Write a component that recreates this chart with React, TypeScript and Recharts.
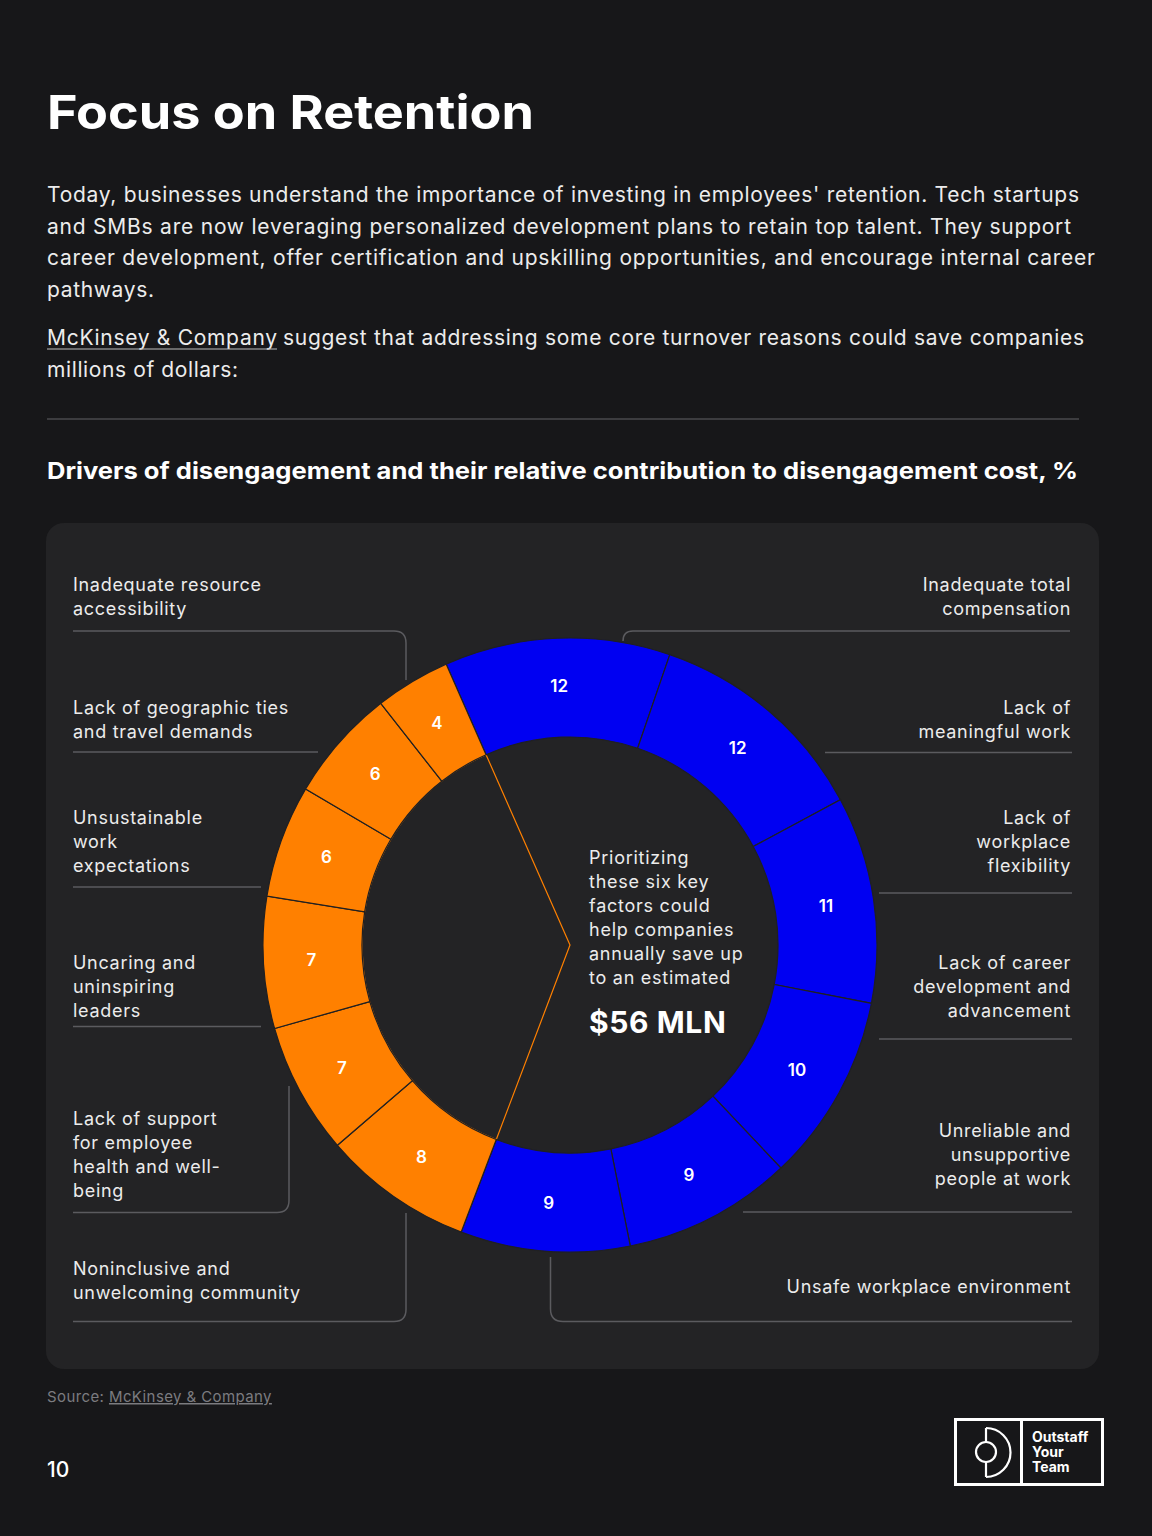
import React from "react";
import { PieChart, Pie, Cell } from "recharts";

// ---------- data ----------
const CATEGORIES = [
  "Inadequate total compensation",
  "Lack of meaningful work",
  "Lack of workplace flexibility",
  "Lack of career development and advancement",
  "Unreliable and unsupportive people at work",
  "Unsafe workplace environment",
  "Noninclusive and unwelcoming community",
  "Lack of support for employee health and well-being",
  "Uncaring and uninspiring leaders",
  "Unsustainable work expectations",
  "Lack of geographic ties and travel demands",
  "Inadequate resource accessibility",
];
const VALUES = [12, 12, 11, 10, 9, 9, 8, 7, 7, 6, 6, 4];
const GROUPS = ["key", "key", "key", "key", "key", "key", "other", "other", "other", "other", "other", "other"];
const LABEL_LINES = [
  ["Inadequate total", "compensation"],
  ["Lack of", "meaningful work"],
  ["Lack of", "workplace", "flexibility"],
  ["Lack of career", "development and", "advancement"],
  ["Unreliable and", "unsupportive", "people at work"],
  ["Unsafe workplace environment"],
  ["Noninclusive and", "unwelcoming community"],
  ["Lack of support", "for employee", "health and well-", "being"],
  ["Uncaring and", "uninspiring", "leaders"],
  ["Unsustainable", "work", "expectations"],
  ["Lack of geographic ties", "and travel demands"],
  ["Inadequate resource", "accessibility"],
];
const CENTER_LINES = ["Prioritizing", "these six key", "factors could", "help companies", "annually save up", "to an estimated"];
const CENTER_VALUE = "$56 MLN";

const TITLE = "Focus on Retention";
const PARAGRAPH = [
  "Today, businesses understand the importance of investing in employees' retention. Tech startups",
  "and SMBs are now leveraging personalized development plans to retain top talent. They support",
  "career development, offer certification and upskilling opportunities, and encourage internal career",
  "pathways.",
];
const SOURCE_NAME = "McKinsey & Company";
const PARAGRAPH2_REST = "suggest that addressing some core turnover reasons could save companies";
const PARAGRAPH2_LINE2 = "millions of dollars:";
const SUBTITLE = "Drivers of disengagement and their relative contribution to disengagement cost, %";

// ---------- layout / styles ----------
const FONT = "Inter, 'Open Sans', sans-serif";
const BG = "#171719";
const CARD = "#232325";
const BLUE = "#0000F2";
const ORANGE = "#FF8000";
const LINE = "#5b5b5f";
const TEXT = "#ececec";

const PARA_RIGHT = [1079, 1071, 1095, 154];
const PARA_BASE = [202, 233.5, 265, 296.5];

const LABEL_LAYOUT = [
  { side: "right", base: [591, 615], path: "M1070 631 H633 Q623 631 623 641" },
  { side: "right", base: [714, 738], path: "M825 752.5 H1072" },
  { side: "right", base: [824, 848, 872], path: "M879 893 H1072" },
  { side: "right", base: [969, 993, 1017], path: "M879 1039 H1072" },
  { side: "right", base: [1137, 1161, 1185], path: "M743 1212 H1072" },
  { side: "right", base: [1293], path: "M1072 1321.5 H563 Q550.5 1321.5 550.5 1309 V1257" },
  { side: "left", base: [1275, 1299], path: "M73 1321.5 H394 Q406 1321.5 406 1309.5 V1213" },
  { side: "left", base: [1125, 1149, 1173, 1197], path: "M73 1212.5 H277 Q289 1212.5 289 1200.5 V1086" },
  { side: "left", base: [969, 993, 1017], path: "M73 1026.5 H261" },
  { side: "left", base: [824, 848, 872], path: "M73 887 H261" },
  { side: "left", base: [714, 738], path: "M73 752 H318" },
  { side: "left", base: [591, 615], path: "M73 631 H394 Q406 631 406 643 V680" },
];

const pieData = CATEGORIES.map((name, i) => ({ name, value: VALUES[i], group: GROUPS[i] }));
const groupData = ["key", "other"].map((g) => ({
  name: g,
  value: VALUES.filter((_, i) => GROUPS[i] === g).reduce((a, b) => a + b, 0),
}));

const START = 113.8;
const END = START - 360;

const renderValueLabel = (p: any) => {
  const r = 259;
  const a = (-p.midAngle * Math.PI) / 180;
  return (
    <text
      x={p.cx + r * Math.cos(a)}
      y={p.cy + r * Math.sin(a)}
      fill="#ffffff"
      fontSize={17}
      fontWeight={600}
      fontFamily={FONT}
      textAnchor="middle"
      dominantBaseline="central"
    >
      {VALUES[p.index]}
    </text>
  );
};

export default function App() {
  return (
    <div style={{ position: "absolute", left: 0, top: 0, width: 1152, height: 1536, background: BG, fontFamily: FONT }}>
      <svg width={1152} height={1536} style={{ position: "absolute", left: 0, top: 0 }}>
        <text x={47} y={129} fill="#ffffff" fontSize={47} fontWeight={700} fontFamily={FONT} textLength={487} lengthAdjust="spacingAndGlyphs">
          {TITLE}
        </text>
        {PARAGRAPH.map((t, i) => (
          <text key={i} x={47} y={PARA_BASE[i]} fill={TEXT} fontSize={21} fontFamily={FONT} textLength={PARA_RIGHT[i] - 47} lengthAdjust="spacing">
            {t}
          </text>
        ))}
        <text x={47} y={345} fill={TEXT} fontSize={21} fontFamily={FONT} textLength={230} lengthAdjust="spacing">
          {SOURCE_NAME}
        </text>
        <line x1={47} x2={277} y1={349} y2={349} stroke="#bdbdbd" strokeWidth={1.2} />
        <text x={283} y={345} fill={TEXT} fontSize={21} fontFamily={FONT} textLength={1084 - 283} lengthAdjust="spacing">
          {PARAGRAPH2_REST}
        </text>
        <text x={47} y={376.5} fill={TEXT} fontSize={21} fontFamily={FONT} textLength={191} lengthAdjust="spacing">
          {PARAGRAPH2_LINE2}
        </text>
        <line x1={47} x2={1079} y1={419} y2={419} stroke="#4a4a4d" strokeWidth={1.5} />
        <text x={47} y={479} fill="#ffffff" fontSize={23} fontWeight={700} fontFamily={FONT} textLength={1031} lengthAdjust="spacingAndGlyphs">
          {SUBTITLE}
        </text>

        <rect x={46} y={523} width={1053} height={846} rx={18} fill={CARD} />

        {LABEL_LAYOUT.map((l, i) => (
          <g key={i}>
            <path d={l.path} fill="none" stroke={LINE} strokeWidth={1.5} />
            {LABEL_LINES[i].map((t, j) => (
              <text
                key={j}
                x={l.side === "left" ? 73 : 1071}
                y={l.base[j]}
                fill={TEXT}
                fontSize={18}
                fontFamily={FONT}
                letterSpacing={0.7}
                textAnchor={l.side === "left" ? "start" : "end"}
              >
                {t}
              </text>
            ))}
          </g>
        ))}

        {CENTER_LINES.map((t, i) => (
          <text key={i} x={589} y={864 + i * 24} fill={TEXT} fontSize={18} fontFamily={FONT} letterSpacing={0.75}>
            {t}
          </text>
        ))}
        <text x={589} y={1033} fill="#ffffff" fontSize={30} fontWeight={700} fontFamily={FONT} letterSpacing={0.6}>
          {CENTER_VALUE}
        </text>

        <text x={47} y={1402} fill="#7c7c80" fontSize={15} fontFamily={FONT} letterSpacing={0.4}>
          Source:{" "}
          <tspan style={{ textDecoration: "underline" }}>{SOURCE_NAME}</tspan>
        </text>
        <text x={47} y={1477} fill="#ffffff" fontSize={21} fontWeight={500} fontFamily={FONT}>
          10
        </text>

        {/* logo */}
        <rect x={955.5} y={1419.5} width={147} height={65} fill="none" stroke="#ffffff" strokeWidth={3} />
        <line x1={1021.5} x2={1021.5} y1={1419.5} y2={1484.5} stroke="#ffffff" strokeWidth={3} />
        <path d="M986 1428 A24.5 24.5 0 0 1 986 1477" fill="none" stroke="#ffffff" strokeWidth={2.2} />
        <line x1={986} x2={986} y1={1428} y2={1442} stroke="#ffffff" strokeWidth={2.2} />
        <line x1={986} x2={986} y1={1462} y2={1477} stroke="#ffffff" strokeWidth={2.2} />
        <circle cx={986} cy={1452} r={10} fill="none" stroke="#ffffff" strokeWidth={2.2} />
        <text x={1032} y={1442} fill="#ffffff" fontSize={14} fontWeight={700} fontFamily={FONT}>Outstaff</text>
        <text x={1032} y={1457} fill="#ffffff" fontSize={14} fontWeight={700} fontFamily={FONT}>Your</text>
        <text x={1032} y={1472} fill="#ffffff" fontSize={14} fontWeight={700} fontFamily={FONT}>Team</text>
      </svg>

      <div style={{ position: "absolute", left: 240, top: 615 }}>
        <PieChart width={660} height={660} margin={{ top: 0, right: 0, bottom: 0, left: 0 }}>
          <Pie
            data={groupData}
            dataKey="value"
            cx={330}
            cy={330}
            innerRadius={0}
            outerRadius={208}
            startAngle={START}
            endAngle={END}
            isAnimationActive={false}
          >
            {groupData.map((g, i) => (
              <Cell key={i} fill="none" stroke={g.name === "other" ? ORANGE : "none"} strokeWidth={1.2} />
            ))}
          </Pie>
          <Pie
            data={pieData}
            dataKey="value"
            cx={330}
            cy={330}
            innerRadius={208}
            outerRadius={307}
            startAngle={START}
            endAngle={END}
            isAnimationActive={false}
            label={renderValueLabel}
            labelLine={false}
          >
            {pieData.map((d, i) => (
              <Cell key={i} fill={d.group === "key" ? BLUE : ORANGE} stroke="#202022" strokeWidth={1.2} />
            ))}
          </Pie>
        </PieChart>
      </div>
    </div>
  );
}
